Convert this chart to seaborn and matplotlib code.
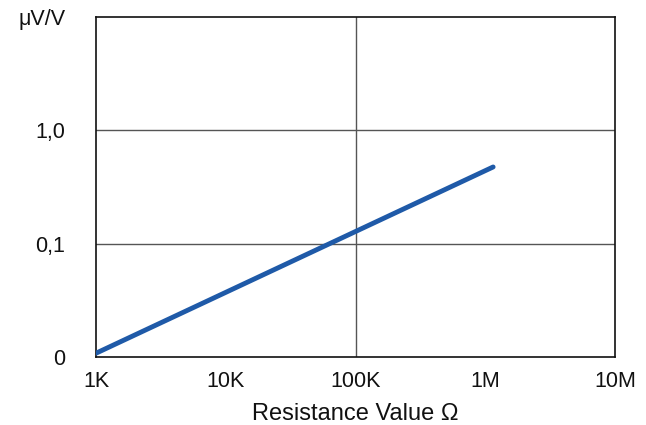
import matplotlib
matplotlib.use("Agg")
import matplotlib.pyplot as plt
import seaborn as sns
import pandas as pd

# Data
resistance = [1e3, 1.15e6]
drift = [0.0108, 0.475]

x_ticks = [1e3, 1e4, 1e5, 1e6, 1e7]
x_labels = ["1K", "10K", "100K", "1M", "10M"]
y_ticks = [0.01, 0.1, 1.0, 10.0]
y_labels = ["0", "0,1", "1,0", "μV/V"]
x_grid = [1e5]
y_grid = [0.1, 1.0]

sns.set_style("white")
plt.rcParams['font.family'] = ['Liberation Sans', 'DejaVu Sans']

fig = plt.figure(figsize=(6.46, 4.25), dpi=100)
ax = fig.add_axes([96/646, 1-357/425, (615-96)/646, (357-17)/425])

df = pd.DataFrame({"R": resistance, "V": drift})
sns.lineplot(data=df, x="R", y="V", ax=ax, color="#1f5aa8", linewidth=3.5,
             solid_capstyle="round", zorder=3)

ax.set_xscale("log")
ax.set_yscale("log")
ax.set_xlim(1e3, 1e7)
ax.set_ylim(0.01, 10)
ax.minorticks_off()
ax.set_xticks(x_ticks)
ax.set_xticklabels(x_labels)
ax.set_yticks(y_ticks)
ax.set_yticklabels(y_labels)
ax.tick_params(axis="both", length=0, labelsize=15.5, colors="#111111")
ax.tick_params(axis="x", pad=10)
ax.tick_params(axis="y", pad=22)

for g in x_grid:
    ax.axvline(g, color="#555555", linewidth=1, zorder=1)
for g in y_grid:
    ax.axhline(g, color="#555555", linewidth=1, zorder=1)

for s in ax.spines.values():
    s.set_color("#111111")
    s.set_linewidth(1.2)

ax.set_xlabel("Resistance Value Ω", fontsize=17, color="#111111", labelpad=8)
ax.set_ylabel("")

fig.savefig("out.png", dpi=100)
